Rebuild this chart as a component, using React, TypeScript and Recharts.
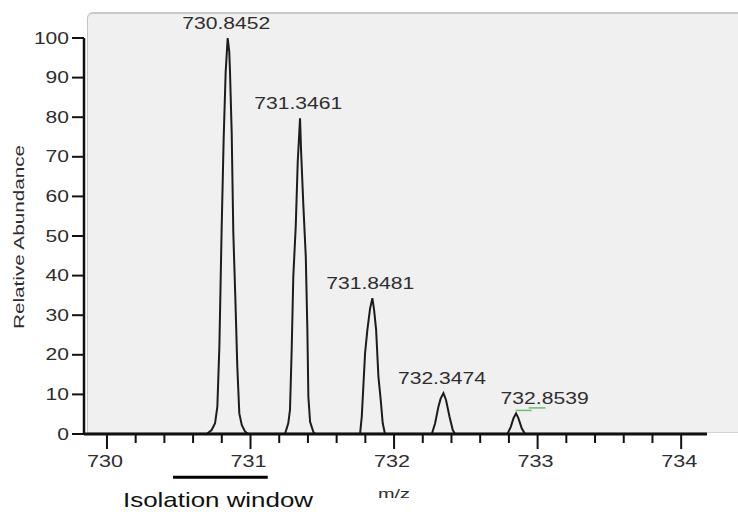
import React from 'react';
import { LineChart, Line, XAxis, YAxis, ReferenceDot, ReferenceLine } from 'recharts';

// profile spectrum (m/z, relative abundance)
const mzValues = [
  729.84,
  730.695, 730.729, 730.753, 730.769, 730.783, 730.799, 730.813, 730.827, 730.841,
  730.852, 730.857, 730.869, 730.88, 730.894, 730.908, 730.922, 730.939, 730.962, 730.985,
  731.24, 731.263, 731.275, 731.287, 731.298, 731.315, 731.329, 731.345,
  731.352, 731.368, 731.385, 731.396, 731.403, 731.415, 731.438, 731.45,
  731.763, 731.775, 731.786, 731.798, 731.814, 731.833, 731.849,
  731.861, 731.875, 731.891, 731.907, 731.921, 731.937,
  732.263, 732.286, 732.309, 732.325, 732.344, 732.362, 732.386, 732.409, 732.425,
  732.79, 732.813, 732.832, 732.85, 732.866, 732.89, 732.913,
  734.18,
];
const abundance = [
  0,
  0, 1, 2.7, 6.9, 22, 52, 74.7, 91.5, 100,
  96.5, 91.5, 75.9, 51, 34.7, 17, 5.2, 2.3, 0.6, 0,
  0, 2.7, 6.1, 21.6, 39.7, 52.4, 68.8, 79.7,
  71.7, 57.8, 44.8, 26.3, 9.4, 3.1, 0.5, 0,
  0, 4.4, 12, 20.4, 26.3, 31.7, 34.3,
  31.3, 26.3, 14.5, 8.6, 2.7, 0,
  0, 2.7, 6.9, 9, 10.3, 8.6, 4.4, 1, 0,
  0, 1.8, 4, 5.2, 4, 1.4, 0,
  0,
];

const peakMz = [730.8452, 731.3461, 731.8481, 732.3474, 732.8539];
const peakHeights = [100, 79.7, 34.3, 10.3, 5.2];

const xTicks = [
  730, 730.2, 730.4, 730.6, 730.8, 731, 731.2, 731.4, 731.6, 731.8, 732,
  732.2, 732.4, 732.6, 732.8, 733, 733.2, 733.4, 733.6, 733.8, 734,
];
const xLabelTicks = [730, 731, 732, 733, 734];
const yTicks = [0, 10, 20, 30, 40, 50, 60, 70, 80, 90, 100];
const isolationWindow = [730.46, 731.12];

const spectrum = mzValues.map((mz, i) => ({ mz, abundance: abundance[i] }));

const FONT = '"Liberation Sans", Arial, sans-serif';
const TEXT = '#2e2e2e';

const XTick = ({ x, y, payload }: any) => {
  const major = xLabelTicks.includes(payload.value);
  return (
    <g>
      <line x1={x} y1={y} x2={x} y2={y + (major ? 15 : 9)} stroke="#111" strokeWidth={2} />
      {major && (
        <text
          x={x - 2}
          y={y + 27}
          textAnchor="middle"
          dominantBaseline="central"
          fontSize={17}
          fontFamily={FONT}
          fill={TEXT}
          textLength={36}
          lengthAdjust="spacingAndGlyphs"
        >
          {payload.value}
        </text>
      )}
    </g>
  );
};

const YTick = ({ x, y, payload }: any) => {
  const label = String(payload.value);
  return (
    <g>
      <line x1={x - 12} y1={y} x2={x} y2={y} stroke="#111" strokeWidth={2} />
      <text
        x={x - 15}
        y={y}
        textAnchor="end"
        dominantBaseline="central"
        fontSize={16}
        fontFamily={FONT}
        fill={TEXT}
        textLength={11.7 * label.length}
        lengthAdjust="spacingAndGlyphs"
      >
        {label}
      </text>
    </g>
  );
};

const peakLabel = (i: number) => (p: any) => {
  // last label sits off to the right of its peak in the original
  const dx = i === peakMz.length - 1 ? 28 : -2;
  const cx = p.cx + dx;
  const cy = p.cy - 15;
  return (
    <g>
      <text
        x={cx}
        y={cy}
        textAnchor="middle"
        dominantBaseline="central"
        fontSize={17}
        fontFamily={FONT}
        fill={TEXT}
        textLength={88}
        lengthAdjust="spacingAndGlyphs"
      >
        {peakMz[i].toFixed(4)}
      </text>
      {i === peakMz.length - 1 && (
        <g stroke="#6cbf6c" strokeWidth={1.5}>
          <line x1={cx - 29} y1={cy + 12} x2={cx - 13} y2={cy + 12} />
          <line x1={cx - 16} y1={cy + 9.5} x2={cx + 1} y2={cy + 9.5} />
        </g>
      )}
    </g>
  );
};

export default function App() {
  return (
    <div style={{ position: 'absolute', left: 0, top: 0, width: 738, height: 512, background: '#fff' }}>
      {/* plot panel */}
      <div
        style={{
          position: 'absolute',
          left: 87,
          top: 12,
          width: 651,
          height: 421,
          background: '#f0f0f0',
          borderTop: '2px solid #c9c9c9',
          borderLeft: '1.5px solid #c4c4c4',
          borderBottom: '1px solid #d4d4d4',
          borderTopLeftRadius: 6,
          boxSizing: 'border-box',
        }}
      />
      <div style={{ position: 'absolute', left: 0, top: 0 }}>
        <LineChart
          width={738}
          height={512}
          data={spectrum}
          margin={{ top: 38, right: 31, bottom: 0, left: 0 }}
        >
          <XAxis
            dataKey="mz"
            type="number"
            domain={[729.84, 734.18]}
            ticks={xTicks}
            interval={0}
            allowDataOverflow
            height={78}
            tickSize={0}
            tickMargin={0}
            tickLine={false}
            tick={<XTick />}
            axisLine={{ stroke: '#111', strokeWidth: 3 }}
          />
          <YAxis
            type="number"
            domain={[0, 100]}
            ticks={yTicks}
            interval={0}
            width={84}
            tickSize={0}
            tickMargin={0}
            tickLine={false}
            tick={<YTick />}
            axisLine={{ stroke: '#111', strokeWidth: 2.5 }}
          />
          <Line
            type="linear"
            dataKey="abundance"
            stroke="#1c1c1c"
            strokeWidth={2}
            dot={false}
            activeDot={false}
            isAnimationActive={false}
          />
          {peakMz.map((mz, i) => (
            <ReferenceDot
              key={mz}
              x={mz}
              y={peakHeights[i]}
              r={0}
              fill="none"
              stroke="none"
              ifOverflow="visible"
              shape={peakLabel(i)}
            />
          ))}
          <ReferenceLine
            segment={[
              { x: isolationWindow[0], y: -10.9 },
              { x: isolationWindow[1], y: -10.9 },
            ]}
            stroke="#000"
            strokeWidth={3}
            ifOverflow="visible"
          />
        </LineChart>
      </div>
      <svg width={738} height={512} style={{ position: 'absolute', left: 0, top: 0, pointerEvents: 'none' }}>
        <text
          transform="translate(18,237) rotate(-90)"
          textAnchor="middle"
          dominantBaseline="central"
          fontSize={15.5}
          fontFamily={FONT}
          fill={TEXT}
          textLength={184}
          lengthAdjust="spacingAndGlyphs"
        >
          Relative Abundance
        </text>
        <text
          x={394}
          y={493}
          textAnchor="middle"
          dominantBaseline="central"
          fontSize={13.5}
          fontFamily={FONT}
          fill={TEXT}
          textLength={32}
          lengthAdjust="spacingAndGlyphs"
        >
          m/z
        </text>
        <text
          x={218}
          y={499}
          textAnchor="middle"
          dominantBaseline="central"
          fontSize={21}
          fontFamily={FONT}
          fill="#111"
          textLength={190}
          lengthAdjust="spacingAndGlyphs"
        >
          Isolation window
        </text>
      </svg>
    </div>
  );
}
